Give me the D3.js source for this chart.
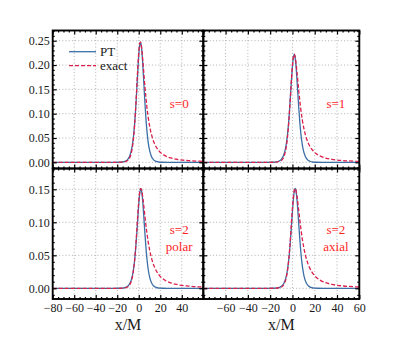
<!DOCTYPE html>
<html lang="en">
<head>
<meta charset="UTF-8" />
<script src="https://cdnjs.cloudflare.com/ajax/libs/d3/7.8.5/d3.min.js"></script>
<style>
body { margin: 0; background: #fff; }
svg { display: block; }
text { font-family: "Liberation Serif", "DejaVu Serif", serif; }
</style>
</head>
<body>
<svg id="chart" width="407" height="339"></svg>
<script>

// exact potentials, sampled along the tortoise coordinate x/M
const exactX = [-80, -20, -15, -10, -8.59, -7.19, -5.33, -3.89, -2.41, -1.49, -0.82, -0.27, 0.19, 0.97, 1.61, 2.18,
  2.92, 4.0, 4.95, 5.81, 7.39, 8.83, 10.2, 12.77, 15.22, 18.74, 24.39, 29.88, 35.28, 45.89, 56.36, 61.55];
const exactS0 = [0, 0.00003, 0.00036, 0.00434, 0.0086, 0.0170, 0.0405, 0.0751, 0.1298, 0.1694, 0.1977, 0.2176, 0.2311, 0.2447, 0.2469, 0.2426,
  0.2299, 0.2031, 0.1768, 0.1536, 0.1173, 0.0916, 0.0733, 0.0496, 0.0357, 0.0236, 0.0137, 0.00895, 0.00629, 0.00359, 0.00232, 0.00192];
const exactS1 = [0, 0.00003, 0.0003, 0.0037, 0.0074, 0.0146, 0.0348, 0.0648, 0.1127, 0.1479, 0.1736, 0.1920, 0.2048, 0.2187, 0.2222, 0.2197,
  0.2099, 0.1875, 0.1646, 0.1440, 0.1111, 0.0875, 0.0703, 0.0480, 0.0347, 0.0231, 0.0135, 0.00883, 0.00622, 0.00356, 0.0023, 0.00191];
const exactPolar = [0, 0.00001, 0.0002, 0.00239, 0.00475, 0.00937, 0.02245, 0.0418, 0.0731, 0.0964, 0.1138, 0.1266, 0.1358, 0.1467, 0.1509, 0.1509,
  0.1467, 0.1344, 0.1208, 0.1079, 0.0862, 0.0697, 0.0573, 0.0405, 0.0300, 0.0205, 0.0123, 0.00819, 0.00584, 0.0034, 0.00222, 0.00185];
const exactAxial = [0, 0.00001, 0.00015, 0.00186, 0.0037, 0.00735, 0.0178, 0.0339, 0.0615, 0.0836, 0.1013, 0.1152, 0.1261, 0.1406, 0.1481, 0.1511,
  0.1500, 0.1406, 0.1281, 0.1152, 0.0926, 0.0749, 0.0615, 0.0432, 0.0318, 0.0216, 0.0128, 0.00848, 0.00601, 0.00347, 0.00226, 0.00188];

// Poschl-Teller approximations
const ptX = [-80, -23.4, -18.4, -15.4, -12.4, -10.4, -8.4, -6.4, -5.4, -4.4, -3.4, -2.4, -1.4, -0.4, 0.6, 1.6,
  2.6, 3.6, 4.6, 5.6, 6.6, 7.6, 8.6, 9.6, 11.6, 13.6, 15.6, 18.6, 21.6, 26.6, 60];
const ptS0 = [0, 0.00002, 0.00018, 0.00066, 0.00239, 0.00561, 0.01304, 0.02974, 0.04424, 0.06469, 0.09233, 0.12725, 0.16719, 0.20642, 0.23593, 0.247,
  0.23593, 0.20642, 0.16719, 0.12725, 0.09233, 0.06469, 0.04424, 0.02974, 0.01304, 0.00561, 0.00239, 0.00066, 0.00018, 0.00002, 0];
const ptS1 = [0, 0.00002, 0.00016, 0.00059, 0.00215, 0.00504, 0.01172, 0.0267, 0.0398, 0.0581, 0.0830, 0.1144, 0.1503, 0.1855, 0.2121, 0.222,
  0.2121, 0.1855, 0.1503, 0.1144, 0.0830, 0.0581, 0.0398, 0.0267, 0.01172, 0.00504, 0.00215, 0.00059, 0.00016, 0.00002, 0];
const ptPolarX = [-80, -23.05, -18.05, -15.05, -12.05, -10.05, -8.05, -6.05, -5.05, -4.05, -3.05, -2.05, -1.05, -0.05, 0.95, 1.95,
  2.95, 3.95, 4.95, 5.95, 6.95, 7.95, 8.95, 9.95, 11.95, 13.95, 15.95, 18.95, 21.95, 26.95, 60];
const ptPolar = [0, 0.00001, 0.00011, 0.0004, 0.00146, 0.00343, 0.00797, 0.0182, 0.0270, 0.0395, 0.0564, 0.0778, 0.1022, 0.1262, 0.1442, 0.151,
  0.1442, 0.1262, 0.1022, 0.0778, 0.0564, 0.0395, 0.0270, 0.0182, 0.00797, 0.00343, 0.00146, 0.0004, 0.00011, 0.00001, 0];
const ptAxialX = [-80, -22.55, -17.55, -14.55, -11.55, -9.55, -7.55, -5.55, -4.55, -3.55, -2.55, -1.55, -0.55, 0.45, 1.45, 2.45,
  3.45, 4.45, 5.45, 6.45, 7.45, 8.45, 9.45, 10.45, 12.45, 14.45, 16.45, 19.45, 22.45, 27.45, 60];
const ptAxial = [0, 0.00001, 0.00011, 0.0004, 0.00146, 0.00344, 0.0080, 0.0182, 0.0271, 0.0397, 0.0566, 0.0780, 0.1025, 0.1265, 0.1446, 0.1514,
  0.1446, 0.1265, 0.1025, 0.0780, 0.0566, 0.0397, 0.0271, 0.0182, 0.0080, 0.00344, 0.00146, 0.0004, 0.00011, 0.00001, 0];

const xMajor = [-80, -60, -40, -20, 0, 20, 40, 60];
const yMajorTop = [0, 0.05, 0.10, 0.15, 0.20, 0.25];
const yMajorBottom = [0, 0.05, 0.10, 0.15];
const legendNames = ['PT', 'exact'];

const BLUE = '#3b6fa6';
const RED = '#dc1e4a';
const LABEL_RED = '#ff2424';

const svg = d3.select('#chart');

const cols = [[52.7, 203.3], [203.3, 359.3]];
const rows = [
  { y0: 30.5, y1: 168.5, domain: [-0.0127, 0.271], major: yMajorTop },
  { y0: 168.5, y1: 299, domain: [-0.0162, 0.1815], major: yMajorBottom }
];

const panels = [
  { c: 0, r: 0, ex: exactS0, px: ptX, pt: ptS0, labels: ['s=0'], legend: true },
  { c: 1, r: 0, ex: exactS1, px: ptX, pt: ptS1, labels: ['s=1'] },
  { c: 0, r: 1, ex: exactPolar, px: ptPolarX, pt: ptPolar, labels: ['s=2', 'polar'] },
  { c: 1, r: 1, ex: exactAxial, px: ptAxialX, pt: ptAxial, labels: ['s=2', 'axial'] }
];

const zip = (xs, ys) => xs.map((x, i) => [x, ys[i]]);
const range = (a, b, step) => d3.range(Math.round(a / step), Math.round(b / step) + 1).map(i => +(i * step).toFixed(4));

panels.forEach((p, i) => {
  const [x0, x1] = cols[p.c];
  const row = rows[p.r];
  const x = d3.scaleLinear().domain([-80, 60]).range([x0, x1]);
  const y = d3.scaleLinear().domain(row.domain).range([row.y1, row.y0]);
  const w = x1 - x0, h = row.y1 - row.y0;

  const g = svg.append('g');
  g.append('clipPath').attr('id', 'clip' + i)
    .append('rect').attr('x', x0).attr('y', row.y0).attr('width', w).attr('height', h);

  // dotted grid
  const grid = g.append('g').attr('stroke', '#a8a8a8').attr('stroke-width', 0.9).attr('stroke-dasharray', '1,2.2');
  xMajor.filter(v => v > -80 && v < 60).forEach(v => {
    grid.append('line').attr('x1', x(v)).attr('x2', x(v)).attr('y1', row.y0).attr('y2', row.y1);
  });
  row.major.forEach(v => {
    grid.append('line').attr('x1', x0).attr('x2', x1).attr('y1', y(v)).attr('y2', y(v));
  });

  const line = d3.line().x(d => x(d[0])).y(d => y(d[1])).curve(d3.curveMonotoneX);
  const curves = g.append('g').attr('clip-path', `url(#clip${i})`).attr('fill', 'none');
  curves.append('path').attr('d', line(zip(p.px, p.pt)))
    .attr('stroke', BLUE).attr('stroke-width', 1.3);
  curves.append('path').attr('d', line(zip(exactX, p.ex)))
    .attr('stroke', RED).attr('stroke-width', 1.3).attr('stroke-dasharray', '4,2');

  // ticks inside on all four sides
  const xMinor = range(-80, 60, 5).filter(v => !xMajor.includes(v));
  const yMinor = range(-0.01, row.domain[1], 0.01).filter(v => v >= row.domain[0] && !row.major.some(m => Math.abs(m - v) < 1e-6));

  const showX = p.c === 0 ? (v => v < 60) : (v => v > -80);
  const bottom = d3.axisBottom(x).tickValues(xMajor).tickSize(-4).tickPadding(4)
    .tickFormat(v => (p.r === 1 && showX(v)) ? d3.format('d')(v) : '');
  const bottomMinor = d3.axisBottom(x).tickValues(xMinor).tickSize(-2).tickFormat('');
  const top = d3.axisTop(x).tickValues(xMajor).tickSize(-4).tickFormat('');
  const topMinor = d3.axisTop(x).tickValues(xMinor).tickSize(-2).tickFormat('');
  const left = d3.axisLeft(y).tickValues(row.major).tickSize(-4).tickPadding(3)
    .tickFormat(v => p.c === 0 ? d3.format('.2f')(v) : '');
  const leftMinor = d3.axisLeft(y).tickValues(yMinor).tickSize(-2).tickFormat('');
  const right = d3.axisRight(y).tickValues(row.major).tickSize(-4).tickFormat('');
  const rightMinor = d3.axisRight(y).tickValues(yMinor).tickSize(-2).tickFormat('');

  const axes = [
    [bottom, `translate(0,${row.y1})`], [bottomMinor, `translate(0,${row.y1})`],
    [top, `translate(0,${row.y0})`], [topMinor, `translate(0,${row.y0})`],
    [left, `translate(${x0},0)`], [leftMinor, `translate(${x0},0)`],
    [right, `translate(${x1},0)`], [rightMinor, `translate(${x1},0)`]
  ];
  axes.forEach(([ax, tr]) => {
    const a = g.append('g').attr('transform', tr).call(ax);
    a.select('.domain').remove();
    a.selectAll('line').attr('stroke', '#000').attr('stroke-width', 1.2);
    a.selectAll('text').attr('fill', '#1a1a1a').style('font-size', '12px')
      .style('font-family', '"Liberation Serif", "DejaVu Serif", serif');
  });

  g.append('rect').attr('x', x0).attr('y', row.y0).attr('width', w).attr('height', h)
    .attr('fill', 'none').attr('stroke', '#000').attr('stroke-width', 1.9);

  // panel labels
  const lx = x0 + (p.c === 0 ? 0.84 : 0.85) * w;
  p.labels.forEach((t, k) => {
    const ly = p.r === 0 ? row.y0 + 0.525 * h : row.y0 + (k === 0 ? 0.464 : 0.594) * h;
    g.append('text').attr('x', lx).attr('y', ly).attr('dy', '0.35em')
      .attr('text-anchor', 'middle').attr('fill', LABEL_RED).style('font-size', '13px').text(t);
  });

  if (p.legend) {
    const leg = g.append('g');
    [[BLUE, null], [RED, '4,2']].forEach(([col, dash], k) => {
      const ly = 51.7 + k * 14;
      leg.append('line').attr('x1', 69).attr('x2', 96).attr('y1', ly).attr('y2', ly)
        .attr('stroke', col).attr('stroke-width', 1.3).attr('stroke-dasharray', dash);
      leg.append('text').attr('x', 100).attr('y', ly).attr('dy', '0.33em')
        .attr('fill', '#1a1a1a').style('font-size', '13px').text(legendNames[k]);
    });
  }

  if (p.r === 1) {
    g.append('text').attr('x', (x0 + x1) / 2).attr('y', 330).attr('text-anchor', 'middle')
      .attr('fill', '#1a1a1a').style('font-size', '16px').text('x/M');
  }
});

</script>
</body>
</html>
